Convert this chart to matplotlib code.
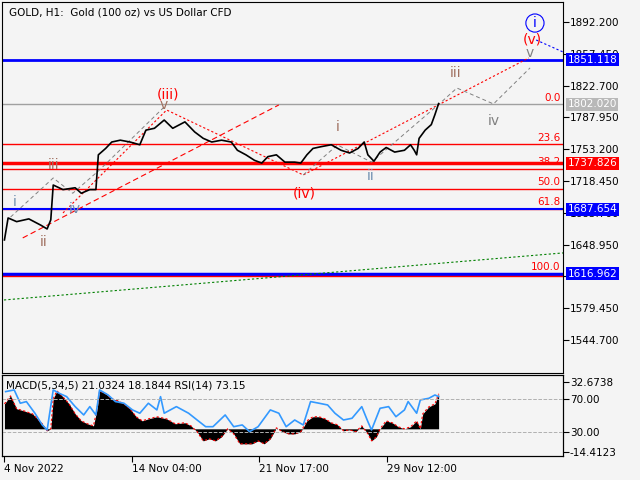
import matplotlib.pyplot as plt
import matplotlib.transforms as mtransforms

plt.rcParams['font.family'] = ['DejaVu Sans']
plt.rcParams['font.size'] = 7.5

# price path (bar units, price)
px = [2,5,12,22,32,37,40,42,50,60,65,72,77,79,85,90,97,105,113,118,125,133,140,150,158,165,
      172,180,188,193,200,207,213,218,225,232,240,245,250,255,262,270,278,285,292,297,300,
      305,310,315,322,330,335,338,340,342,347,352,355,358]
price = [1654,1678,1674,1677,1670,1666,1676,1714,1709,1711,1705,1709,1709,1747,1754,1761,1763,
         1761,1758,1774,1776,1785,1776,1783,1772,1765,1761,1763,1761,1752,1747,1741,1738,1745,
         1747,1739,1739,1738,1747,1754,1756,1758,1752,1749,1754,1761,1747,1740,1750,1755,1750,
         1752,1758,1752,1747,1765,1774,1780,1791,1803]

macd_x = [2,7,12,18,25,33,37,40,42,45,50,55,60,65,70,75,78,80,85,90,95,100,105,110,115,120,127,
          135,142,150,155,160,165,170,175,180,185,190,195,200,205,210,215,220,225,230,235,240,
          245,250,255,260,265,270,275,280,285,290,295,300,303,307,310,315,320,325,330,335,340,
          343,345,350,355,358]
macd = [17.8,23.5,14.3,12.8,10.7,3.6,-1.4,0,21.4,27.1,22.8,17.8,10.7,5.7,3.6,2.1,14.3,27.1,25,
        21.4,20,17.8,14.3,8.6,5.7,7.1,8.6,7.1,3.6,4.3,2.1,-2.1,-8.6,-7.1,-8.6,-5.7,0,-3.6,-10.7,
        -10.7,-10.7,-8.6,-10.7,-7.1,0.7,-2.1,-3.6,-3.6,-2.1,5.7,8.6,8.6,7.1,4.3,2.9,-1.4,-0.7,
        -2.1,2.1,-3.6,-8.6,-5.7,0,5.7,4.3,1.4,0,1.4,5.7,0,10.7,15.7,17.8,25]

rsi_x = [3,10,15,20,27,33,37,42,47,53,60,67,72,77,80,87,93,100,107,113,120,127,130,133,143,153,
         160,167,173,183,190,197,203,210,220,227,233,240,247,253,260,267,273,280,287,295,300,
         303,310,317,323,330,333,340,343,350,355,358]
rsi = [78.9,80.9,64.8,66.8,52.7,38.5,32.4,80.9,76.8,72.8,60.7,50.6,60.7,50.6,80.9,74.8,66.8,64.8,
       56.7,52.7,64.8,56.7,72.8,52.7,60.7,52.7,44.5,36.4,36.4,50.6,36.4,38.5,30.4,36.4,56.7,
       52.7,36.4,44.5,38.5,66.8,64.8,62.7,52.7,44.5,46.6,60.7,42.5,32.4,58.7,60.7,48.5,56.7,
       66.8,52.7,68.8,70.8,74.8,72.8]

fib_levels = [1802.02, 1758.34, 1731.33, 1709.49, 1687.65, 1616.962]
fib_names = ['0.0', '23.6', '38.2', '50.0', '61.8', '100.0']
price_ticks = [1892.2,1857.45,1822.7,1787.95,1753.2,1718.45,1683.7,1648.95,1614.2,1579.45,1544.7]

bg = '#f4f4f4'
fig = plt.figure(figsize=(6.4, 4.8), dpi=100, facecolor=bg)
ax = fig.add_axes([2/640, 107/480, 561/640, 371/480], facecolor=bg)
ax.set_xlim(0, 460)
ax.set_ylim(1508.6, 1914)
ax.yaxis.tick_right()
ax.set_yticks(price_ticks)
ax.set_yticklabels(['%.3f' % t for t in price_ticks])
ax.set_xticks([])
ax.tick_params(axis='y', length=4, pad=1, labelsize=7.5)

# horizontal levels
for lv in fib_levels[1:5]:
    ax.axhline(lv, color='red', lw=1)
ax.axhline(1802.02, color='#a0a0a0', lw=1)
ax.axhline(1737.826, color='red', lw=2.5)
ax.axhline(1851.118, color='blue', lw=2)
ax.axhline(1687.654, color='blue', lw=1.5)
ax.axhline(1616.962, color='blue', lw=2.5)
ax.axhline(1614.8, color='red', lw=1)
for lv, nm in zip(fib_levels, fib_names):
    ax.text(458, lv + 2, nm, color='red', ha='right', va='bottom', fontsize=7.5)

# trend lines
ax.plot([1.6, 460], [1588.4, 1639.8], color='green', ls=(0, (2, 2)), lw=0.8)
ax.plot([17, 227], [1656.2, 1801.5], color='red', ls=(0, (5, 3)), lw=0.8)
ax.plot([50, 135, 247, 432], [1683.5, 1796, 1725, 1852.9], color='red', ls=(0, (2, 2)), lw=0.8)
ax.plot([7, 42, 58, 80, 133], [1679, 1721.7, 1705, 1730.5, 1799.3], color='gray', ls=(0, (4, 3)), lw=0.7)
ax.plot([247, 275, 303, 358, 373, 403, 433], [1725, 1757.8, 1739, 1802, 1820, 1802.6, 1842],
        color='gray', ls=(0, (4, 3)), lw=0.7)
ax.plot([438, 460], [1872.5, 1859.4], color='blue', ls=(0, (2, 2)), lw=0.8)

ax.plot(px, price, color='black', lw=1.2)

# wave labels
red_lbl = [('(iii)', 136, 1812.5), ('(iv)', 248, 1705), ('(v)', 435, 1872.5)]
for t, x, y in red_lbl:
    ax.text(x, y, t, color='red', fontsize=10, ha='center', va='center')
ax.text(437, 1891, 'i', color='blue', fontsize=10, ha='center', va='center',
        bbox=dict(boxstyle='circle,pad=0.15', fc='none', ec='blue', lw=0.8))
small = [('i', 10, 1695.5, '#6f8fb0'), ('ii', 34, 1651.8, '#a07060'), ('iii', 42, 1736, '#a07060'),
         ('iv', 60, 1688, '#6f8fb0'), ('v', 133, 1801.5, '#a07060'), ('i', 275, 1777.5, '#a07060'),
         ('ii', 302, 1724, '#6f8fb0'), ('iii', 372, 1836.5, '#a07060'), ('iv', 403, 1784, '#808080'),
         ('v', 433, 1858, '#808080')]
for t, x, y, c in small:
    ax.text(x, y, t, color=c, fontsize=10, ha='center', va='center')

trans = mtransforms.blended_transform_factory(ax.transAxes, ax.transData)
for lv, fc in [(1851.118, 'blue'), (1802.02, '#b8b8b8'), (1737.826, 'red'),
               (1687.654, 'blue'), (1616.962, 'blue')]:
    ax.text(1.008, lv, '%.3f' % lv, transform=trans, color='white', va='center', ha='left',
            fontsize=7.5, bbox=dict(boxstyle='square,pad=0.15', fc=fc, ec='none'))

ax.text(0.012, 0.985, 'GOLD, H1:  Gold (100 oz) vs US Dollar CFD', transform=ax.transAxes,
        va='top', ha='left', fontsize=7.5)

# indicator panel
ax2 = fig.add_axes([2/640, 24/480, 561/640, 81/480], facecolor=bg)
ax3 = ax2.twinx()
ax2.set_xlim(0, 460)
ax2.set_ylim(-19.4, 38.4)
ax2.fill_between(macd_x, macd, 0, color='black', lw=0)
ax2.plot(macd_x, macd, color='red', ls=(0, (2, 2)), lw=0.8)
ax2.set_xticks([2, 107, 211, 316])
ax2.set_xticklabels(['4 Nov 2022', '14 Nov 04:00', '21 Nov 17:00', '29 Nov 12:00'], ha='left')
ax2.tick_params(axis='x', length=4, pad=2, labelsize=7.5)
ax2.set_yticks([])

ax3.set_ylim(0.9, 99)
ax3.plot(rsi_x, rsi, color='#3399ff', lw=1.2)
ax3.axhline(70, color='#b0b0b0', ls='--', lw=0.7)
ax3.axhline(30, color='#b0b0b0', ls='--', lw=0.7)
# MACD extremes in RSI-axis units (same pixel rows)
ax3.set_yticks([90.6, 70, 30, 5.8])
ax3.set_yticklabels(['32.6738', '70.00', '30.00', '-14.4123'])
ax3.tick_params(axis='y', length=4, pad=1, labelsize=7.5)
ax2.text(0.008, 0.93, 'MACD(5,34,5) 21.0324 18.1844 RSI(14) 73.15', transform=ax2.transAxes,
         va='top', ha='left', fontsize=7.5)

fig.savefig('out.png', dpi=100, facecolor=bg)
